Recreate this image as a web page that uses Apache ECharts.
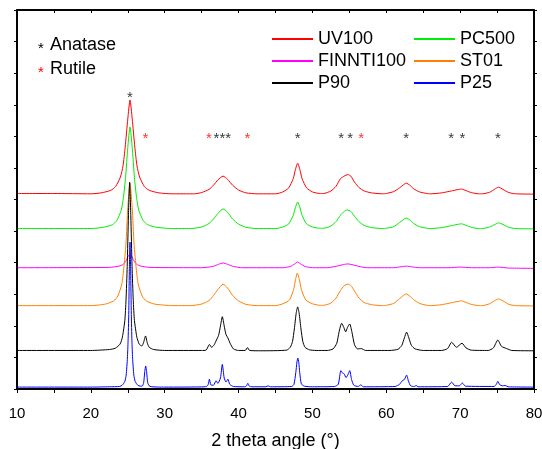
<!DOCTYPE html>
<html>
<head>
<meta charset="utf-8">
<script src="https://cdn.jsdelivr.net/npm/echarts@6/dist/echarts.min.js"></script>
<style>
html,body{margin:0;padding:0;background:#fff;}
#chart{width:542px;height:449px;}
</style>
</head>
<body>
<div id="chart"></div>
<script>
// Series names
const seriesNames = ['UV100', 'PC500', 'FINNTI100', 'ST01', 'P90', 'P25'];

// 2-theta / intensity (stacked, arbitrary units)
const uv100 = [[10,6.19],[15,6.19],[20,6.18],[21.4,6.21],[22.7,6.29],[23.35,6.41],[24.0,6.71],[24.35,7.06],[24.65,7.66],[25.0,8.55],[25.3,9.15],[25.6,8.55],[25.95,7.66],[26.25,7.06],[26.6,6.71],[27.25,6.41],[27.9,6.29],[29.2,6.21],[31,6.18],[34.0,6.18],[35.0,6.22],[36.0,6.32],[36.6,6.45],[37.2,6.62],[37.9,6.74],[38.5,6.64],[39.2,6.45],[40.0,6.30],[41.0,6.21],[42.5,6.18],[45.0,6.18],[46.0,6.24],[46.8,6.37],[47.4,6.66],[47.7,6.95],[48.0,7.15],[48.3,6.95],[48.6,6.66],[49.2,6.37],[50.0,6.24],[51.0,6.19],[51.5,6.19],[52.5,6.27],[53.2,6.42],[53.8,6.66],[54.3,6.74],[54.8,6.79],[55.2,6.74],[55.7,6.55],[56.3,6.38],[57.0,6.27],[58.0,6.21],[59.5,6.18],[60.0,6.19],[61.0,6.25],[61.8,6.37],[62.3,6.46],[62.7,6.52],[63.2,6.45],[63.7,6.34],[64.5,6.24],[65.5,6.19],[66.0,6.18],[67.5,6.21],[68.8,6.27],[69.6,6.31],[70.2,6.33],[70.8,6.28],[71.5,6.22],[72.5,6.18],[73.0,6.18],[74.0,6.23],[74.7,6.33],[75.2,6.39],[75.8,6.32],[76.6,6.22],[77.5,6.18],[80,6.17]];

const pc500 = [[10,5.08],[20,5.08],[21.7,5.12],[22.9,5.20],[23.5,5.33],[24.1,5.65],[24.4,6.04],[24.7,6.69],[25.0,7.65],[25.3,8.30],[25.6,7.65],[25.9,6.69],[26.2,6.04],[26.5,5.65],[27.1,5.33],[27.7,5.20],[28.9,5.12],[31,5.08],[33.5,5.08],[35.0,5.13],[36.0,5.24],[36.6,5.38],[37.2,5.56],[37.9,5.70],[38.5,5.60],[39.2,5.38],[40.0,5.22],[41.0,5.12],[42.5,5.08],[45.0,5.08],[46.0,5.13],[46.8,5.23],[47.4,5.50],[47.7,5.75],[48.0,5.92],[48.3,5.75],[48.6,5.50],[49.2,5.23],[50.0,5.13],[51.0,5.09],[51.5,5.09],[52.5,5.16],[53.2,5.30],[53.8,5.50],[54.3,5.62],[54.7,5.67],[55.2,5.62],[55.7,5.47],[56.3,5.30],[57.0,5.18],[58.0,5.11],[59.5,5.08],[60.0,5.09],[61.0,5.14],[61.8,5.27],[62.3,5.36],[62.7,5.41],[63.2,5.35],[63.7,5.24],[64.5,5.14],[65.5,5.09],[66.0,5.08],[67.5,5.11],[68.8,5.17],[69.6,5.21],[70.2,5.23],[70.8,5.18],[71.5,5.12],[72.5,5.08],[73.0,5.08],[74.0,5.13],[74.7,5.21],[75.2,5.26],[75.8,5.21],[76.6,5.12],[77.5,5.08],[80,5.07]];

const finnti100 = [[10,3.84],[22.5,3.85],[23.8,3.89],[24.4,3.95],[24.8,4.07],[25.05,4.20],[25.3,4.28],[25.55,4.20],[25.8,4.07],[26.2,3.95],[26.8,3.89],[28.0,3.85],[35.0,3.84],[36.5,3.88],[37.3,3.95],[37.9,3.99],[38.5,3.95],[39.3,3.88],[40.5,3.84],[46.0,3.84],[47.0,3.88],[47.6,3.96],[48.0,4.02],[48.4,3.96],[49.0,3.88],[50.0,3.84],[52.0,3.84],[53.3,3.89],[54.2,3.94],[54.8,3.96],[55.5,3.93],[56.5,3.87],[57.5,3.84],[61.0,3.84],[62.0,3.87],[62.7,3.89],[63.4,3.87],[64.5,3.84],[68.5,3.84],[70.0,3.86],[71.5,3.84],[74.0,3.84],[75.2,3.86],[76.5,3.83],[80,3.82]];

const st01 = [[10,2.64],[20,2.64],[22.0,2.69],[23.1,2.79],[23.65,2.94],[24.2,3.33],[24.45,3.80],[24.75,4.58],[25.0,5.74],[25.3,6.52],[25.6,5.74],[25.85,4.58],[26.15,3.80],[26.4,3.33],[26.95,2.94],[27.5,2.79],[28.6,2.69],[31,2.64],[33.5,2.64],[35.0,2.69],[36.0,2.80],[36.6,2.96],[37.2,3.15],[37.9,3.32],[38.5,3.20],[39.2,2.96],[40.0,2.79],[41.0,2.68],[42.5,2.64],[45.0,2.64],[46.0,2.70],[46.9,2.82],[47.45,3.15],[47.7,3.45],[47.95,3.67],[48.25,3.45],[48.5,3.15],[49.1,2.82],[50.0,2.70],[51.0,2.65],[51.5,2.65],[52.5,2.72],[53.2,2.88],[53.8,3.12],[54.3,3.27],[54.8,3.32],[55.2,3.28],[55.7,3.10],[56.3,2.88],[57.0,2.74],[58.0,2.67],[59.5,2.64],[60.0,2.65],[61.0,2.71],[61.8,2.86],[62.3,2.96],[62.7,3.01],[63.2,2.94],[63.7,2.83],[64.5,2.71],[65.5,2.65],[66.0,2.64],[67.5,2.67],[68.8,2.73],[69.6,2.77],[70.2,2.79],[70.8,2.74],[71.5,2.68],[72.5,2.64],[73.0,2.64],[74.0,2.70],[74.7,2.80],[75.2,2.85],[75.8,2.79],[76.6,2.68],[77.5,2.64],[80,2.63]];

const p90 = [[10,1.22],[20,1.22],[22.5,1.25],[23.3,1.29],[23.95,1.42],[24.27,1.64],[24.6,2.17],[24.76,2.81],[24.92,3.88],[25.09,5.48],[25.25,6.55],[25.41,5.48],[25.58,3.88],[25.74,2.81],[25.9,2.17],[26.23,1.64],[26.55,1.42],[26.9,1.36],[27.15,1.48],[27.4,1.68],[27.65,1.45],[27.9,1.32],[28.5,1.25],[30,1.22],[35.0,1.22],[35.6,1.23],[36.05,1.41],[36.35,1.32],[36.7,1.40],[37.0,1.55],[37.3,1.70],[37.55,2.00],[37.8,2.29],[38.05,2.00],[38.3,1.72],[38.55,1.62],[38.85,1.45],[39.3,1.27],[40.0,1.22],[40.9,1.22],[41.2,1.31],[41.5,1.22],[43.0,1.21],[46.5,1.23],[47.0,1.32],[47.3,1.50],[47.55,1.90],[47.8,2.40],[48.0,2.60],[48.2,2.40],[48.45,1.90],[48.7,1.50],[49.0,1.32],[49.6,1.24],[50.5,1.22],[52.0,1.22],[52.8,1.27],[53.3,1.45],[53.6,1.80],[53.95,2.08],[54.25,1.95],[54.5,1.81],[54.75,1.95],[55.05,2.06],[55.35,1.80],[55.7,1.40],[56.1,1.27],[56.6,1.28],[57.2,1.22],[60.5,1.22],[61.6,1.26],[62.1,1.38],[62.45,1.62],[62.75,1.80],[63.05,1.62],[63.4,1.38],[63.9,1.27],[65.0,1.22],[67.5,1.22],[68.3,1.28],[68.85,1.48],[69.5,1.32],[70.25,1.45],[70.8,1.30],[71.5,1.23],[73.8,1.22],[74.5,1.30],[75.1,1.55],[75.6,1.35],[76.3,1.28],[77.0,1.22],[80,1.21]];

const p25 = [[10,0.06],[20,0.06],[22.5,0.07],[23.9,0.08],[24.25,0.12],[24.6,0.24],[24.78,0.44],[24.95,0.98],[25.04,1.53],[25.13,2.36],[25.21,3.73],[25.3,4.65],[25.39,3.73],[25.48,2.36],[25.56,1.53],[25.65,0.98],[25.82,0.44],[26.0,0.24],[26.35,0.12],[26.7,0.09],[26.95,0.09],[27.15,0.2],[27.3,0.55],[27.42,0.73],[27.55,0.55],[27.7,0.2],[28.0,0.08],[30,0.06],[35.5,0.07],[35.85,0.12],[36.05,0.31],[36.25,0.13],[36.6,0.12],[36.95,0.26],[37.2,0.18],[37.55,0.35],[37.8,0.78],[38.05,0.35],[38.3,0.22],[38.55,0.31],[38.8,0.15],[39.3,0.08],[40.8,0.07],[41.05,0.09],[41.25,0.18],[41.45,0.09],[41.8,0.07],[43.7,0.07],[44.0,0.10],[44.3,0.07],[47.2,0.08],[47.5,0.15],[47.75,0.52],[47.9,0.85],[48.02,0.98],[48.15,0.85],[48.28,0.52],[48.5,0.16],[48.9,0.09],[50.0,0.07],[53.0,0.08],[53.5,0.15],[53.85,0.58],[54.1,0.50],[54.3,0.48],[54.55,0.36],[54.8,0.45],[55.05,0.58],[55.3,0.30],[55.6,0.12],[56.2,0.08],[56.55,0.13],[56.9,0.07],[61.2,0.08],[61.8,0.15],[62.15,0.26],[62.45,0.30],[62.75,0.44],[63.0,0.25],[63.3,0.10],[63.8,0.08],[64.05,0.11],[64.3,0.07],[68.3,0.08],[68.85,0.22],[69.3,0.10],[69.9,0.10],[70.3,0.19],[70.7,0.09],[74.6,0.08],[74.9,0.15],[75.1,0.24],[75.35,0.14],[75.7,0.10],[76.1,0.11],[76.5,0.07],[80,0.06]];

// Phase reflection markers (2-theta, height)
const anataseMarks = [[25.3,9.34],[37.0,8.04],[37.8,8.04],[38.6,8.04],[48.0,8.04],[53.9,8.04],[55.1,8.04],[62.7,8.04],[68.8,8.04],[70.3,8.04],[75.1,8.04]];
const rutileMarks = [[27.4,8.04],[36.0,8.04],[41.2,8.04],[56.6,8.04]];

const phaseNames = ['Anatase', 'Rutile'];
const xTickValues = [10, 20, 30, 40, 50, 60, 70, 80];
const xAxisTitle = '2 theta angle (°)';
const xRange = [10, 80];
const yRange = [0, 12];

const FONT = '"Liberation Sans", Arial, sans-serif';
const colors = {UV100:'#ff0000', PC500:'#00ee00', FINNTI100:'#ff00ff', ST01:'#ff8000', P90:'#000000', P25:'#0000ff'};
const dataByName = {UV100:uv100, PC500:pc500, FINNTI100:finnti100, ST01:st01, P90:p90, P25:p25};

const chart = echarts.init(document.getElementById('chart'), null, {renderer:'canvas'});

const lineSeries = seriesNames.map(n => ({
  name: n, type: 'line', data: dataByName[n], symbol: 'none', smooth: 0.2,
  lineStyle: {color: colors[n], width: 1}, itemStyle: {color: colors[n]},
  xAxisIndex: 0, yAxisIndex: 0
}));

function markSeries(data, color) {
  return {
    type: 'scatter', data: data, symbol: 'circle', symbolSize: 1,
    itemStyle: {color: 'rgba(0,0,0,0)'}, xAxisIndex: 0, yAxisIndex: 0, z: 5,
    label: {show: true, formatter: '*', position: 'inside', fontSize: 15, fontFamily: FONT,
      color: color, offset: [0, 4]}
  };
}

// Plot frame through the axes (corners of the axis ranges)
const frameSeries = {
  type: 'line', name: 'frame', xAxisIndex: 0, yAxisIndex: 0, symbol: 'none', smooth: false,
  clip: false, silent: true, z: 10,
  data: [[xRange[0], yRange[0]], [xRange[1], yRange[0]], [xRange[1], yRange[1]], [xRange[0], yRange[1]], [xRange[0], yRange[0]]],
  lineStyle: {color: '#000000', width: 1.5}, itemStyle: {color: '#000000'}
};

const legendCommon = {
  orient: 'vertical', icon: 'rect', itemWidth: 41, itemHeight: 2, itemGap: 4,
  textStyle: {fontSize: 18, color: '#000', fontFamily: FONT}, selectedMode: false, padding: 0
};

chart.setOption({
  animation: false,
  backgroundColor: '#ffffff',
  grid: {left: 17, right: 8, top: 10, bottom: 60, containLabel: false, outerBoundsMode: 'none',
         show: true, borderColor: '#000000', borderWidth: 1.5},
  legend: [
    Object.assign({}, legendCommon, {data: ['UV100', 'FINNTI100', 'P90'], left: 272, top: 30}),
    Object.assign({}, legendCommon, {data: ['PC500', 'ST01', 'P25'], left: 414, top: 30})
  ],
  xAxis: [
    {type: 'value', min: xRange[0], max: xRange[1], interval: 5, position: 'bottom',
     axisLine: {show: true, onZero: false, lineStyle: {color: '#000000', width: 1.5}},
     axisTick: {show: true, inside: false, length: 4, lineStyle: {color: '#000000', width: 1}},
     splitLine: {show: false},
     axisLabel: {fontSize: 15, color: '#000', margin: 17, fontFamily: FONT,
       formatter: v => xTickValues.indexOf(v) >= 0 ? String(v) : ''},
     name: xAxisTitle, nameLocation: 'middle', nameGap: 43,
     nameTextStyle: {fontSize: 18, color: '#000', fontFamily: FONT}},
    {type: 'value', min: xRange[0], max: xRange[1], interval: 5, position: 'top',
     axisLine: {show: true, onZero: false, lineStyle: {color: '#000000', width: 1.5}},
     axisTick: {show: true, inside: true, length: 3, lineStyle: {color: '#000000'}},
     axisLabel: {show: false}, splitLine: {show: false}}
  ],
  yAxis: [
    {type: 'value', min: yRange[0], max: yRange[1], interval: 1, position: 'left',
     axisLine: {show: true, onZero: false, lineStyle: {color: '#000000', width: 1.5}},
     axisTick: {show: true, inside: false, length: 3, lineStyle: {color: '#000000'}},
     axisLabel: {show: false}, splitLine: {show: false}},
    {type: 'value', min: yRange[0], max: yRange[1], interval: 1, position: 'right',
     axisLine: {show: true, onZero: false, lineStyle: {color: '#000000', width: 1.5}},
     axisTick: {show: true, inside: false, length: 3, lineStyle: {color: '#000000'}},
     axisLabel: {show: false}, splitLine: {show: false}}
  ],
  graphic: [
    {type: 'text', x: 41, y: 49, style: {text: '*', font: '15px ' + FONT, fill: '#000', align: 'center', verticalAlign: 'middle'}},
    {type: 'text', x: 50, y: 45, style: {text: phaseNames[0], font: '18px ' + FONT, fill: '#000', align: 'left', verticalAlign: 'middle'}},
    {type: 'text', x: 41, y: 73, style: {text: '*', font: '15px ' + FONT, fill: '#ff0000', align: 'center', verticalAlign: 'middle'}},
    {type: 'text', x: 50, y: 69, style: {text: phaseNames[1], font: '18px ' + FONT, fill: '#000', align: 'left', verticalAlign: 'middle'}}
  ],
  series: lineSeries.concat([markSeries(anataseMarks, '#000'), markSeries(rutileMarks, '#ff0000'), frameSeries])
});
</script>
</body>
</html>
